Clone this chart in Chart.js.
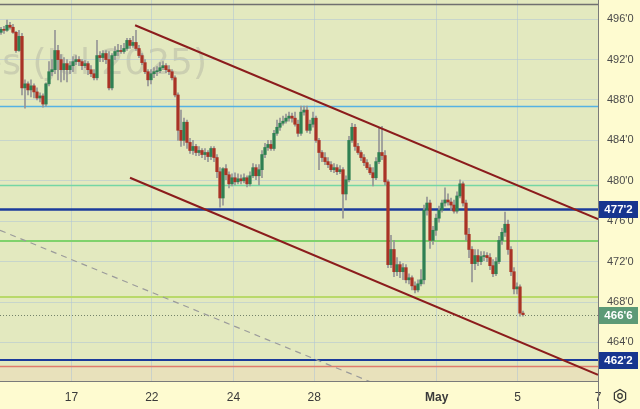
<!DOCTYPE html>
<html>
<head>
<meta charset="utf-8">
<script src="https://cdn.jsdelivr.net/npm/chart.js@4.4.1/dist/chart.umd.min.js"></script>
<style>
  html, body { margin: 0; padding: 0; background: #fefbd0; }
  #wrap { width: 640px; height: 409px; }
</style>
</head>
<body>
<div id="wrap"><canvas id="chart" width="640" height="409"></canvas></div>
<script>
// hourly candles, price in cents (ticks shown as cents'eighths)
const opens = [
  494.7, 495.0, 494.9, 495.4, 495.2, 494.7, 492.9, 494.3, 489.2, 489.6,
  489.0, 489.4, 488.8, 488.2, 488.4, 487.6, 489.6, 490.8, 491.0, 492.9,
  492.0, 491.0, 491.6, 491.0, 491.4, 491.8, 492.0, 491.8, 491.4, 491.6,
  491.0, 490.6, 490.2, 492.4, 492.2, 492.6, 492.0, 489.2, 492.4, 492.8,
  492.9, 492.8, 493.1, 493.9, 493.4, 493.7, 493.1, 492.4, 491.7, 490.8,
  490.0, 490.6, 490.8, 490.9, 491.2, 491.4, 491.0, 490.8, 490.2, 488.5,
  485.0, 484.0, 485.8, 483.8, 483.0, 483.4, 482.8, 483.0, 482.6, 482.8,
  482.4, 483.2, 482.3, 480.9, 478.3, 481.2, 480.6, 479.7, 480.3, 479.9,
  480.2, 480.0, 480.3, 479.7, 480.5, 481.3, 480.5, 481.1, 482.6, 483.3,
  483.6, 483.2, 484.7, 485.3, 485.7, 485.9, 486.2, 486.4, 486.2, 485.6,
  484.7, 486.8, 487.0, 485.0, 485.6, 486.2, 484.0, 482.8, 482.3, 481.9,
  481.6, 481.1, 481.3, 480.9, 481.1, 478.7, 480.1, 484.0, 485.3, 483.4,
  482.8, 482.3, 481.8, 481.3, 480.8, 480.3, 481.9, 482.8, 482.5, 479.9,
  471.7, 473.2, 471.0, 471.7, 471.0, 471.4, 470.2, 470.4, 469.6, 469.2,
  469.8, 470.2, 477.1, 477.8, 474.1, 475.1, 476.3, 477.1, 477.8, 478.1,
  477.9, 477.6, 477.0, 478.5, 479.7, 477.8, 474.7, 473.2, 471.8, 472.6,
  472.0, 472.5, 472.6, 472.4, 471.6, 470.8, 472.0, 474.1, 474.9, 475.7,
  473.2, 471.0, 469.3, 469.5, 466.9
];
const highs = [
  495.2, 495.3, 495.9, 495.7, 495.5, 494.8, 494.9, 494.6, 490.0, 489.8,
  490.0, 489.6, 489.2, 488.7, 488.6, 489.7, 491.8, 492.0, 494.9, 493.4,
  492.5, 492.2, 492.0, 491.8, 492.3, 492.4, 492.3, 492.0, 491.9, 491.8,
  491.4, 491.0, 493.9, 492.8, 492.9, 492.9, 492.8, 492.6, 493.3, 493.5,
  493.4, 493.6, 494.1, 494.1, 494.3, 494.9, 493.4, 492.6, 492.0, 491.0,
  491.0, 491.2, 491.3, 491.7, 491.8, 491.6, 491.4, 491.0, 490.4, 488.7,
  487.0, 486.2, 486.0, 484.2, 484.0, 483.6, 483.4, 483.2, 483.2, 483.0,
  483.4, 483.4, 482.6, 481.3, 481.3, 481.6, 480.9, 480.7, 480.8, 480.7,
  480.6, 480.7, 480.5, 480.9, 481.7, 481.6, 481.6, 483.0, 483.7, 484.0,
  484.0, 485.0, 486.0, 486.2, 486.4, 486.6, 486.8, 486.7, 486.8, 486.0,
  487.4, 487.4, 487.4, 486.0, 486.8, 486.4, 484.2, 483.0, 482.8, 482.3,
  481.9, 481.7, 481.6, 481.5, 481.3, 480.5, 484.4, 485.7, 485.6, 483.7,
  483.0, 482.6, 482.1, 481.6, 481.3, 482.3, 485.2, 485.4, 483.0, 480.1,
  474.6, 474.1, 472.4, 472.0, 471.8, 471.7, 470.8, 470.6, 470.0, 470.2,
  471.2, 477.6, 478.4, 478.1, 475.5, 476.7, 477.5, 478.1, 479.3, 478.7,
  478.3, 478.1, 478.9, 480.1, 479.9, 478.1, 475.3, 473.5, 473.2, 473.2,
  473.0, 473.0, 472.9, 472.8, 472.2, 472.4, 474.5, 475.3, 476.9, 476.1,
  473.5, 471.4, 469.9, 469.7, 467.1
];
const lows = [
  494.5, 494.6, 494.8, 495.0, 494.6, 492.7, 492.8, 488.5, 487.2, 488.5,
  488.3, 488.2, 488.0, 487.8, 487.3, 487.4, 489.4, 490.4, 490.6, 490.0,
  489.8, 490.0, 489.8, 490.6, 490.8, 491.5, 491.4, 491.0, 491.2, 490.5,
  490.3, 490.0, 490.0, 491.8, 491.8, 491.6, 489.0, 489.0, 492.0, 492.4,
  492.6, 492.6, 492.9, 493.1, 493.2, 492.9, 492.2, 491.5, 490.6, 489.4,
  489.6, 490.2, 490.4, 490.7, 491.0, 490.7, 490.5, 490.0, 488.3, 484.0,
  483.4, 483.5, 483.2, 482.7, 482.6, 482.5, 482.5, 482.3, 482.1, 481.9,
  482.1, 481.9, 480.3, 477.4, 477.6, 480.1, 479.3, 479.5, 479.6, 479.7,
  479.7, 479.8, 479.4, 479.5, 480.3, 480.1, 479.6, 480.3, 482.3, 483.0,
  483.0, 483.0, 484.5, 485.0, 485.5, 485.7, 485.9, 485.8, 485.4, 484.4,
  484.5, 486.5, 484.8, 484.7, 485.3, 483.8, 481.1, 481.9, 481.6, 481.3,
  480.9, 480.8, 480.6, 480.7, 476.3, 478.1, 479.9, 483.8, 483.0, 482.6,
  482.0, 481.5, 481.1, 480.6, 479.5, 480.1, 481.7, 482.1, 479.6, 471.4,
  471.4, 470.5, 470.6, 470.4, 470.2, 469.9, 469.8, 469.2, 468.9, 469.0,
  469.6, 469.8, 476.6, 473.3, 473.7, 474.6, 475.9, 476.9, 477.5, 477.6,
  477.1, 476.8, 476.8, 478.3, 477.5, 474.1, 472.4, 470.0, 471.2, 471.6,
  471.7, 472.1, 472.0, 471.2, 470.5, 470.6, 471.8, 473.7, 474.5, 472.7,
  470.6, 468.8, 468.8, 466.6, 466.6
];
const closes = [
  495.0, 494.9, 495.4, 495.2, 494.7, 492.9, 494.3, 489.2, 489.6, 489.0,
  489.4, 488.8, 488.2, 488.4, 487.6, 489.6, 490.8, 491.0, 492.9, 492.0,
  491.0, 491.6, 491.0, 491.4, 491.8, 492.0, 491.8, 491.4, 491.6, 491.0,
  490.6, 490.2, 492.4, 492.2, 492.6, 492.0, 489.2, 492.4, 492.8, 492.9,
  492.8, 493.1, 493.9, 493.4, 493.7, 493.1, 492.4, 491.7, 490.8, 490.0,
  490.6, 490.8, 490.9, 491.2, 491.4, 491.0, 490.8, 490.2, 488.5, 485.0,
  484.0, 485.8, 483.8, 483.0, 483.4, 482.8, 483.0, 482.6, 482.8, 482.4,
  483.2, 482.3, 480.9, 478.3, 481.2, 480.6, 479.7, 480.3, 479.9, 480.2,
  480.0, 480.3, 479.7, 480.5, 481.3, 480.5, 481.1, 482.6, 483.3, 483.6,
  483.2, 484.7, 485.3, 485.7, 485.9, 486.2, 486.4, 486.2, 485.6, 484.7,
  486.8, 487.0, 485.0, 485.6, 486.2, 484.0, 482.8, 482.3, 481.9, 481.6,
  481.1, 481.3, 480.9, 481.1, 478.7, 480.1, 484.0, 485.3, 483.4, 482.8,
  482.3, 481.8, 481.3, 480.8, 480.3, 481.9, 482.8, 482.5, 479.9, 471.7,
  473.2, 471.0, 471.7, 471.0, 471.4, 470.2, 470.4, 469.6, 469.2, 469.8,
  470.2, 477.1, 477.8, 474.1, 475.1, 476.3, 477.1, 477.8, 478.1, 477.9,
  477.6, 477.0, 478.5, 479.7, 477.8, 474.7, 473.2, 471.8, 472.6, 472.0,
  472.5, 472.6, 472.4, 471.6, 470.8, 472.0, 474.1, 474.9, 475.7, 473.2,
  471.0, 469.3, 469.5, 466.9, 466.75
];

const dayTicks = [23.47, 50.27, 77.5, 104.43, 145.23, 172.2, 199];
const dayLabels = ['17', '22', '24', '28', 'May', '5', '7'];
const priceTicks = [464, 468, 472, 476, 480, 484, 488, 492, 496];

// drawn trend lines: [candle index, price]
const upperChannel = [[44.7, 495.4], [199, 476.2]];
const lowerChannel = [[43.0, 480.3], [199, 460.8]];
const dashedTrend = [[-0.33, 475.1], [133, 458.9]];

// horizontal levels
const levelPrices = [497.5, 487.4, 479.6, 477.25, 474.0, 468.5, 466.75, 462.25, 461.7];
const tagPrices = [477.25, 466.75, 462.25];
const bandTop = 461.6;
const watermark = 'Futures (Jul 2025)';

const levelStyle = [
  {c: '#707070', w: 1.5}, {c: '#55b2e3', w: 1.5}, {c: '#74d6a4', w: 1.5},
  {c: '#1b3b9b', w: 2.5}, {c: '#80d26c', w: 2}, {c: '#b9d96a', w: 2},
  {c: '#74836a', w: 1, d: [1, 2]}, {c: '#1b3b9b', w: 2}, {c: '#e07b6c', w: 1.5}
];
const tagColors = ['#17358f', '#5c9a76', '#17358f'];

const fmtPrice = (v) => {
    const w = Math.floor(v + 1e-9);
    return w + "'" + Math.round((v - w) * 8);
}

const gridColor = 'rgba(176,196,214,0.55)';

const paper = {
    id: 'paper',
    beforeDraw(chart) {
        const {ctx, chartArea: a, scales: {y}} = chart;
        ctx.save();
        ctx.fillStyle = '#fefbd0';
        ctx.fillRect(0, 0, chart.width, chart.height);
        ctx.fillStyle = '#e3e9bf';
        ctx.fillRect(a.left, a.top, a.right - a.left, a.bottom - a.top);
        const yb = y.getPixelForValue(bandTop);
        ctx.fillStyle = '#e8e1bb';
        ctx.fillRect(a.left, yb, a.right - a.left, a.bottom - yb);
        ctx.font = '36px "DejaVu Sans"';
        ctx.fillStyle = 'rgba(140,140,140,0.28)';
        ctx.textAlign = 'right';
        ctx.textBaseline = 'alphabetic';
        ctx.fillText(watermark, 207, 74);
        ctx.restore();
    },
    beforeDatasetsDraw(chart) {
        const {ctx, chartArea: a, scales: {y}} = chart;
        ctx.save();
        levelPrices.forEach((p, i) => {
            const st = levelStyle[i];
            const py = Math.round(y.getPixelForValue(p)) + (st.w % 2 ? 0.5 : 0);
            ctx.strokeStyle = st.c;
            ctx.lineWidth = st.w;
            ctx.setLineDash(st.d || []);
            ctx.beginPath();
            ctx.moveTo(a.left, py);
            ctx.lineTo(a.right, py);
            ctx.stroke();
        });
        ctx.restore();
    },
    afterDraw(chart) {
        const {ctx, chartArea: a, scales: {y}} = chart;
        ctx.save();
        ctx.strokeStyle = '#7a7a7a';
        ctx.lineWidth = 1;
        ctx.beginPath();
        ctx.moveTo(a.left, a.bottom + 0.5);
        ctx.lineTo(a.right, a.bottom + 0.5);
        ctx.moveTo(a.right + 0.5, 0);
        ctx.lineTo(a.right + 0.5, chart.height);
        ctx.stroke();

        // price tags on the axis
        tagPrices.forEach((p, i) => {
            const py = y.getPixelForValue(p);
            ctx.fillStyle = tagColors[i];
            ctx.fillRect(a.right + 1, Math.round(py) - 8, 39, 17);
            ctx.fillStyle = '#ffffff';
            ctx.font = 'bold 11.5px "Liberation Sans"';
            ctx.textAlign = 'center';
            ctx.textBaseline = 'middle';
            ctx.fillText(fmtPrice(p), a.right + 20.5, Math.round(py) + 0.5);
        });

        // settings gear
        const gx = 620, gy = 396;
        ctx.strokeStyle = '#333';
        ctx.lineWidth = 1.2;
        ctx.beginPath();
        for (let k = 0; k < 6; k++) {
            const ang = Math.PI / 6 + k * Math.PI / 3;
            const px = gx + 6.5 * Math.cos(ang), py = gy + 6.5 * Math.sin(ang);
            k ? ctx.lineTo(px, py) : ctx.moveTo(px, py);
        }
        ctx.closePath();
        ctx.stroke();
        ctx.beginPath();
        ctx.arc(gx, gy, 2.3, 0, Math.PI * 2);
        ctx.stroke();
        ctx.restore();
    }
};

const build_candles = (canvas) => {
    const bodyColors = opens.map((o, i) => closes[i] >= o ? '#2f8053' : '#a93326');
    new Chart(canvas, {
        type: 'bar',
        plugins: [paper],
        data: {
            datasets: [
                {
                    type: 'line', order: 0,
                    data: upperChannel.map(p => ({x: p[0], y: p[1]})),
                    borderColor: '#8b1c1c', borderWidth: 2, pointRadius: 0, fill: false
                },
                {
                    type: 'line', order: 0,
                    data: lowerChannel.map(p => ({x: p[0], y: p[1]})),
                    borderColor: '#8b1c1c', borderWidth: 2, pointRadius: 0, fill: false
                },
                {
                    type: 'line', order: 3,
                    data: dashedTrend.map(p => ({x: p[0], y: p[1]})),
                    borderColor: '#9b9b9b', borderWidth: 1.2, borderDash: [6, 5], pointRadius: 0, fill: false
                },
                {
                    order: 1, grouped: false,
                    data: opens.map((o, i) => ({x: i, y: [o, closes[i]]})),
                    backgroundColor: bodyColors,
                    barThickness: 2.6, minBarLength: 1, borderWidth: 0
                },
                {
                    order: 2, grouped: false,
                    data: lows.map((l, i) => ({x: i, y: [l, highs[i]]})),
                    backgroundColor: '#959595',
                    barThickness: 1, borderWidth: 0
                }
            ]
        },
        options: {
            responsive: false,
            animation: false,
            devicePixelRatio: 1,
            layout: { padding: 0 },
            plugins: { legend: { display: false }, tooltip: { enabled: false } },
            scales: {
                x: {
                    type: 'linear', min: -0.33, max: 199, offset: false,
                    afterBuildTicks: (s) => { s.ticks = dayTicks.map(v => ({value: v})); },
                    afterFit: (s) => { s.height = 28; },
                    ticks: {
                        autoSkip: false, maxRotation: 0, padding: 9, color: '#3a3a3a',
                        font: (c) => ({family: 'Liberation Sans', size: 12, weight: c.index === 4 ? 'bold' : 'normal'}),
                        callback: (v, i) => dayLabels[i]
                    },
                    grid: { color: gridColor, drawTicks: false, offset: false },
                    border: { display: false }
                },
                y: {
                    type: 'linear', position: 'right', min: 460.18, max: 497.9,
                    afterBuildTicks: (s) => { s.ticks = priceTicks.map(v => ({value: v})); },
                    afterFit: (s) => { s.width = 42; s.paddingTop = 0; s.paddingBottom = 0; },
                    ticks: {
                        padding: 9, color: '#4a4a4a',
                        font: {family: 'Liberation Sans', size: 11},
                        callback: (v) => fmtPrice(v)
                    },
                    grid: { color: gridColor, drawTicks: false },
                    border: { display: false }
                }
            }
        }
    });
}

build_candles(document.getElementById('chart'));
</script>
</body>
</html>
